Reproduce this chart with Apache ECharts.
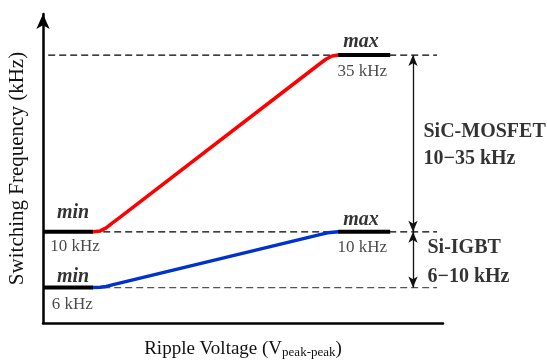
<!DOCTYPE html>
<html>
<head>
<meta charset="utf-8">
<script src="https://cdn.jsdelivr.net/npm/echarts@6/dist/echarts.min.js"></script>
<style>
  html, body { margin: 0; padding: 0; background: #fff; }
  #chart { width: 547px; height: 362px; }
</style>
</head>
<body>
<div id="chart"></div>
<script>
// schematic figure: no numeric scale on the axes, so x/y are read off the picture
// as positions on a 0..100 (x) and 0..103 (y) plotting scale
const levelY = [11.8, 30.4, 89.3];            // 6 kHz, 10 kHz, 35 kHz
const levelText = ['6 kHz', '10 kHz', '35 kHz'];
const minSegX = [0, 12.5];                    // black "min" stub
const maxSegX = [73.8, 86.8];                 // black "max" stub
const dashX = [1.3, 98.5];

// SiC-MOSFET: 10 -> 35 kHz (red)
const sicCurve = [
  [12.5, 30.4], [14.3, 30.7], [15.8, 31.7], [17.3, 33.3], [19.3, 35.3],
  [68.8, 86.0], [70.8, 88.0], [72.3, 89.0], [73.8, 89.3]
];
// Si-IGBT: 6 -> 10 kHz (blue)
const igbtCurve = [
  [12.5, 11.8], [14.3, 11.9], [15.8, 12.2], [17.3, 12.7],
  [70.0, 29.7], [71.8, 30.2], [73.8, 30.4]
];

const chart = echarts.init(document.getElementById('chart'));
const serif = 'Liberation Serif, Times New Roman, serif';

const hSeg = (xs, y) => xs.map(x => [x, y]);

// annotation text, placed in plot coords
const notes = [
  { value: [7.5, 36.7], text: 'min', kind: 'mm' },
  { value: [7.5, 15.4], text: 'min', kind: 'mm' },
  { value: [79.5, 93.7], text: 'max', kind: 'mm' },
  { value: [79.5, 34.3], text: 'max', kind: 'mm' },
  { value: [8.0, 25.6], text: levelText[1], kind: 'f' },
  { value: [7.3, 6.3], text: levelText[0], kind: 'f' },
  { value: [79.8, 83.7], text: levelText[2], kind: 'f' },
  { value: [79.8, 25.0], text: levelText[1], kind: 'f' },
  { value: [95.0, 63.7], text: 'SiC-MOSFET', kind: 'b' },
  { value: [95.0, 54.7], text: '10\u221235 kHz', kind: 'b' },
  { value: [96.0, 25.0], text: 'Si-IGBT', kind: 'b' },
  { value: [96.0, 15.3], text: '6\u221210 kHz', kind: 'b' }
];
const noteStyle = {
  mm: { fontSize: 20, fontWeight: 'bold', fontStyle: 'italic', color: '#000', position: 'inside' },
  f: { fontSize: 17, color: '#1a1a1a', position: 'inside' },
  b: { fontSize: 20, fontWeight: 'bold', color: '#000', position: 'right', distance: 0 }
};

const dashed = (y, color) => ({
  type: 'line', silent: true, symbol: 'none',
  data: hSeg(dashX, y),
  lineStyle: { color: color, width: 1.2, type: [7, 4] }
});
const stub = (xs, y) => ({
  type: 'line', silent: true, symbol: 'none',
  data: hSeg(xs, y),
  lineStyle: { color: '#000', width: 4, cap: 'butt' }
});

const option = {
  animation: false,
  grid: { left: 43, right: 104, top: 14, bottom: 39, outerBoundsMode: 'none', containLabel: false },
  xAxis: {
    type: 'value', min: 0, max: 100,
    name: '{a|Ripple Voltage (V}{b|peak-peak}{a|)}',
    nameLocation: 'middle', nameGap: 16,
    nameTextStyle: {
      rich: {
        a: { fontFamily: serif, fontSize: 19, color: '#111', lineHeight: 20, verticalAlign: 'middle' },
        b: { fontFamily: serif, fontSize: 13, color: '#111', lineHeight: 12, verticalAlign: 'bottom' }
      }
    },
    axisLine: { lineStyle: { color: '#000', width: 2.5 } },
    axisTick: { show: false }, axisLabel: { show: false }, splitLine: { show: false }
  },
  yAxis: {
    type: 'value', min: 0, max: 103,
    name: 'Switching Frequency (kHz)',
    nameLocation: 'middle', nameGap: 15, nameRotate: 90,
    nameTextStyle: { fontFamily: serif, fontSize: 21, color: '#111' },
    axisLine: {
      lineStyle: { color: '#000', width: 2.5 },
      symbol: ['none', 'arrow'], symbolSize: [10, 15]
    },
    axisTick: { show: false }, axisLabel: { show: false }, splitLine: { show: false }
  },
  series: [
    dashed(levelY[2], '#000'),
    dashed(levelY[1], '#000'),
    dashed(levelY[0], '#555'),
    {
      type: 'line', silent: true, symbol: 'none', data: sicCurve,
      lineStyle: { color: '#ff0000', width: 3.5, join: 'round', cap: 'round' }
    },
    {
      type: 'line', silent: true, symbol: 'none', data: igbtCurve,
      lineStyle: { color: '#0033cc', width: 3.5, join: 'round', cap: 'round' }
    },
    stub(minSegX, levelY[1]),
    stub(minSegX, levelY[0]),
    stub(maxSegX, levelY[2]),
    stub(maxSegX, levelY[1]),
    {
      // double-headed range arrows
      type: 'line', silent: true, symbol: 'none', data: [],
      markLine: {
        silent: true, animation: false,
        symbol: ['arrow', 'arrow'], symbolSize: [7, 11],
        label: { show: false },
        lineStyle: { color: '#111', width: 1.3, type: 'solid' },
        data: [
          [{ coord: [92.5, levelY[2]] }, { coord: [92.5, levelY[1]] }],
          [{ coord: [92.5, levelY[1]] }, { coord: [92.5, levelY[0]] }]
        ]
      }
    },
    {
      type: 'scatter', silent: true, clip: false, symbolSize: 1,
      itemStyle: { color: 'rgba(0,0,0,0)' },
      data: notes.map(n => ({
        value: n.value,
        label: Object.assign({ show: true, formatter: n.text, fontFamily: serif }, noteStyle[n.kind])
      }))
    }
  ]
};

chart.setOption(option);
window.addEventListener('resize', () => chart.resize());
</script>
</body>
</html>
